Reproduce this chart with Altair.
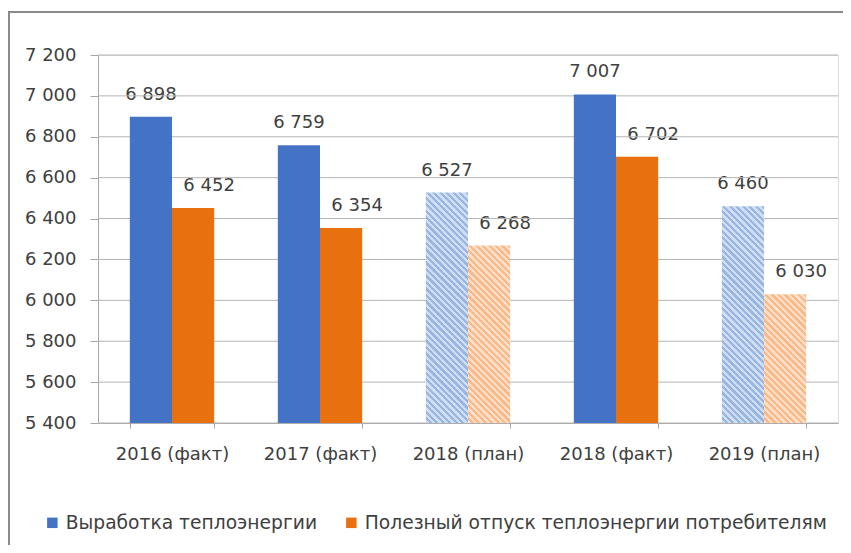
import altair as alt
import pandas as pd

CATEGORIES = ["2016 (факт)", "2017 (факт)", "2018 (план)", "2018 (факт)", "2019 (план)"]
SERIES = ["Выработка теплоэнергии", "Полезный отпуск теплоэнергии потребителям"]
GENERATION = [6898, 6759, 6527, 7007, 6460]
SUPPLY = [6452, 6354, 6268, 6702, 6030]
IS_PLAN = [False, False, True, False, True]
Y_TICKS = [5400, 5600, 5800, 6000, 6200, 6400, 6600, 6800, 7000, 7200]

FONT = "DejaVu Sans"
TEXT = "#404040"
GRID = "#b4b4b4"
AXIS = "#a6a6a6"
BLUE, ORANGE = "#4472C4", "#E8700E"
HATCH = {SERIES[0]: ("#98B6E0", "#CFDEF2"), SERIES[1]: ("#F9B98A", "#FDDFC8")}
LABEL_DX = {SERIES[0]: 0, SERIES[1]: 16}

W, H = 740, 368
PAD_INNER, PAD_OUTER = 0.43, 0.215
Y_MIN, Y_MAX = Y_TICKS[0], Y_TICKS[-1]

rows = []
for c, g, s, p in zip(CATEGORIES, GENERATION, SUPPLY, IS_PLAN):
    rows.append({"cat": c, "series": SERIES[0], "value": g, "plan": p})
    rows.append({"cat": c, "series": SERIES[1], "value": s, "plan": p})
df = pd.DataFrame(rows)

step = W / (len(CATEGORIES) - PAD_INNER + 2 * PAD_OUTER)
bar_w = step * (1 - PAD_INNER) / len(SERIES)


def hatch(w, h, dark, light, period=6.5):
    n = max(1, round((w + h) / period))
    k = (w + h) / (w * w + h * h)
    stops = []
    for i in range(n):
        a, b, c = i / n, (i + 0.5) / n, (i + 1) / n
        stops += [
            {"offset": a, "color": dark},
            {"offset": b, "color": dark},
            {"offset": b, "color": light},
            {"offset": c, "color": light},
        ]
    return {"gradient": "linear", "x1": 1, "y1": 0, "x2": 1 - w * k, "y2": h * k, "stops": stops}


fmt = "replace(format(datum.value, ','), ',', ' ')"

x_enc = alt.X(
    "cat:N", sort=CATEGORIES,
    scale=alt.Scale(paddingInner=PAD_INNER, paddingOuter=PAD_OUTER),
    axis=alt.Axis(title=None, labelAngle=0, labelFontSize=18, labelFont=FONT, labelColor=TEXT,
                  domainColor=AXIS, tickColor=AXIS, tickBand="extent", tickSize=5,
                  labelPadding=17, grid=False),
)
xo_enc = alt.XOffset("series:N", sort=SERIES, scale=alt.Scale(domain=SERIES))
y_enc = alt.Y(
    "value:Q",
    scale=alt.Scale(domain=[Y_MIN, Y_MAX], nice=False, zero=False),
    axis=alt.Axis(title=None, values=Y_TICKS, labelExpr=fmt, grid=False, labelFontSize=18,
                  labelFont=FONT, labelColor=TEXT, domainColor=AXIS, tickColor=AXIS,
                  tickSize=8, labelPadding=14),
)
y2_enc = alt.Y2(datum=Y_MIN)

base = alt.Chart(df)

label_layers = [
    base.transform_filter(f"datum.series == '{ser}'").transform_calculate(label=fmt).mark_text(
        dy=-17, dx=LABEL_DX[ser], baseline="alphabetic", fontSize=18, font=FONT, color=TEXT
    ).encode(x=x_enc, xOffset=xo_enc, y=y_enc, text="label:N")
    for ser in SERIES
]

grid = alt.Chart(pd.DataFrame({"value": Y_TICKS})).mark_rule(color=GRID, strokeWidth=1).encode(y=y_enc)

solid = base.transform_filter("!datum.plan").mark_bar(strokeWidth=0).encode(
    x=x_enc, xOffset=xo_enc, y=y_enc, y2=y2_enc,
    color=alt.Color(
        "series:N", sort=SERIES,
        scale=alt.Scale(domain=SERIES, range=[BLUE, ORANGE]),
        legend=alt.Legend(title=None, orient="none", legendX=-55, legendY=458, direction="horizontal",
                          symbolType="square", symbolSize=110, symbolStrokeWidth=0, labelFontSize=18.7,
                          labelFont=FONT, labelColor=TEXT, columnPadding=24, labelOffset=4,
                          labelLimit=0),
    ),
)

hatched = []
for c, g, s, p in zip(CATEGORIES, GENERATION, SUPPLY, IS_PLAN):
    if not p:
        continue
    for ser, v in zip(SERIES, (g, s)):
        h = (v - Y_MIN) / (Y_MAX - Y_MIN) * H
        dark, light = HATCH[ser]
        hatched.append(
            base.transform_filter(f"datum.cat == '{c}' && datum.series == '{ser}'")
            .mark_bar(fill=hatch(bar_w, h, dark, light), strokeWidth=0)
            .encode(x=x_enc, xOffset=xo_enc, y=y_enc, y2=y2_enc)
        )

frame_src = pd.DataFrame({"k": [0]})
frame_v = alt.Chart(frame_src).mark_rule(color="#8a8a8a", strokeWidth=2).encode(
    x=alt.value(-89), y=alt.value(-43), y2=alt.value(490))
frame_h = alt.Chart(frame_src).mark_rule(color="#8a8a8a", strokeWidth=2).encode(
    x=alt.value(-90), x2=alt.value(760), y=alt.value(-43))

chart = alt.layer(*label_layers, grid, solid, *hatched, frame_v, frame_h).properties(
    width=W, height=H,
    autosize=alt.AutoSizeParams(type="none"),
    padding={"left": 90, "top": 47, "right": 5, "bottom": 122},
).configure_view(stroke=None).configure(background="white")

chart.save("out.html", embed_options={"renderer": "svg", "actions": False})
